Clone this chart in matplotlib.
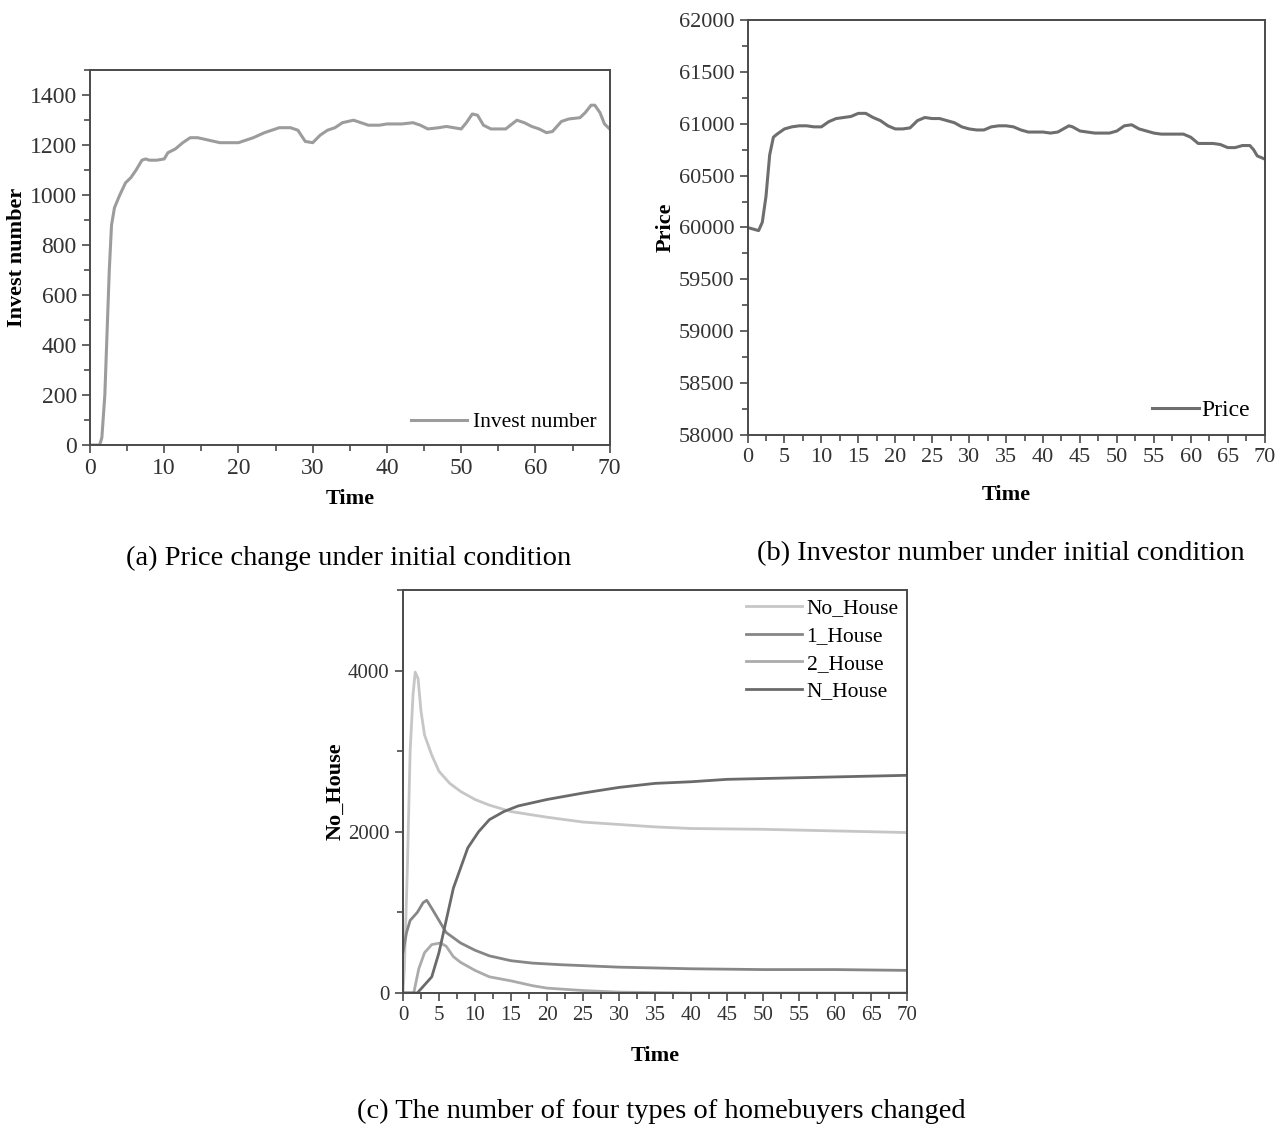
import matplotlib.pyplot as plt
from matplotlib.ticker import MultipleLocator

plt.rcParams["font.family"] = ["Liberation Serif", "DejaVu Serif"]

# (a) invest number over time
inv_t = [0, 1, 1.3, 1.6, 2, 2.3, 2.6, 2.9, 3.3, 4, 4.8, 5.5, 6.2, 7, 7.5, 8, 9, 10,
         10.5, 11.5, 12.5, 13.5, 14.5, 16, 17.5, 19, 20, 21, 22, 23.5, 24.5, 25.5,
         27, 28, 29, 30, 31, 32, 33, 34, 35.5, 36.5, 37.5, 39, 40, 42, 43.5, 44.5,
         45.5, 47, 48, 49, 50, 50.7, 51.5, 52.2, 53, 54, 56, 57.5, 58.5, 59.5, 60.5,
         61.5, 62.3, 63.5, 64.5, 66, 66.7, 67.5, 68, 68.7, 69.3, 70]
inv_v = [0, 0, 0, 30, 200, 450, 700, 880, 950, 1000, 1050, 1070, 1100, 1140, 1145,
         1140, 1140, 1145, 1170, 1185, 1210, 1230, 1230, 1220, 1210, 1210, 1210, 1220,
         1230, 1250, 1260, 1270, 1270, 1260, 1215, 1210, 1240, 1260, 1270, 1290, 1300,
         1290, 1280, 1280, 1285, 1285, 1290, 1280, 1265, 1270, 1275, 1270, 1265, 1290,
         1325, 1320, 1280, 1265, 1265, 1300, 1290, 1275, 1265, 1250, 1255, 1295, 1305,
         1310, 1330, 1360, 1360, 1330, 1285, 1265]

# (b) price over time
price_t = [0, 1, 1.5, 2, 2.5, 3, 3.5, 4, 5, 6, 7, 8, 9, 10, 11, 12, 13, 14, 15, 16,
           17, 18, 19, 20, 21, 22, 23, 24, 25, 26, 27, 28, 29, 30, 31, 32, 33, 34, 35,
           36, 37, 38, 40, 41, 42, 43, 43.5, 44, 45, 46, 47, 49, 50, 51, 52, 53, 54,
           55, 56, 58, 59, 60, 61, 62, 63, 64, 65, 66, 67, 68, 68.5, 69, 70]
price_v = [60000, 59980, 59970, 60050, 60300, 60700, 60870, 60900, 60950, 60970,
           60980, 60980, 60970, 60970, 61020, 61050, 61060, 61070, 61100, 61100,
           61060, 61030, 60980, 60950, 60950, 60960, 61030, 61060, 61050, 61050,
           61030, 61010, 60970, 60950, 60940, 60940, 60970, 60980, 60980, 60970,
           60940, 60920, 60920, 60910, 60920, 60960, 60980, 60970, 60930, 60920,
           60910, 60910, 60930, 60980, 60990, 60950, 60930, 60910, 60900, 60900,
           60900, 60870, 60810, 60810, 60810, 60800, 60770, 60770, 60790, 60790,
           60750, 60690, 60660]

# (c) four homebuyer groups
no_t = [0, 0.2, 0.6, 1, 1.4, 1.7, 2.1, 2.5, 3, 4, 5, 6.5, 8, 10, 12, 15, 20, 25, 30,
        35, 40, 50, 60, 70]
no_v = [0, 300, 1500, 3000, 3700, 3980, 3900, 3500, 3200, 2950, 2750, 2600, 2500,
        2400, 2330, 2250, 2180, 2120, 2090, 2060, 2040, 2030, 2010, 1990]
one_t = [0, 0.5, 1, 2, 2.8, 3.3, 4, 5, 6, 8, 10, 12, 15, 18, 22, 30, 40, 50, 60, 70]
one_v = [500, 750, 900, 1000, 1120, 1150, 1050, 900, 750, 620, 530, 460, 400, 370,
         350, 320, 300, 290, 290, 280]
two_t = [0, 1.5, 2.2, 3, 4, 5.2, 6, 7, 8, 10, 12, 15, 18, 20, 25, 30, 40, 70]
two_v = [0, 0, 300, 500, 600, 620, 580, 450, 380, 280, 200, 150, 90, 60, 30, 10, 0, 0]
n_t = [0, 2, 3, 4, 5, 6, 7, 8, 9, 10.5, 12, 14, 16, 20, 25, 30, 35, 40, 45, 50, 60, 70]
n_v = [0, 0, 100, 200, 500, 900, 1300, 1550, 1800, 2000, 2150, 2250, 2320, 2400,
       2480, 2550, 2600, 2620, 2650, 2660, 2680, 2700]

SPINE = "#4a4a4a"
LBL = dict(fontsize=16, fontweight="bold")


def style(ax, size):
    for s in ax.spines.values():
        s.set_color(SPINE)
        s.set_linewidth(1.4)
    ax.tick_params(which="both", direction="out", color=SPINE, width=1.2,
                   labelsize=size, labelcolor="#333333", top=False, right=False)
    ax.tick_params(which="major", length=6)
    ax.tick_params(which="minor", length=4)


fig = plt.figure(figsize=(12.8, 11.29), dpi=100)

ax1 = fig.add_axes([0.0703, 0.6058, 0.406, 0.332])
ax1.plot(inv_t, inv_v, color="#9c9c9c", lw=2.2, label="Invest number")
ax1.set_xlim(0, 70)
ax1.set_ylim(0, 1500)
ax1.xaxis.set_major_locator(MultipleLocator(10))
ax1.xaxis.set_minor_locator(MultipleLocator(5))
ax1.yaxis.set_minor_locator(MultipleLocator(100))
ax1.set_yticks([0, 200, 400, 600, 800, 1000, 1200, 1400])
ax1.set_xlabel("Time", labelpad=7, **LBL)
ax1.set_ylabel("Invest number", labelpad=2, **LBL)
style(ax1, 17)
ax1.legend(loc="lower right", frameon=False, fontsize=15.5, handlelength=2.6,
           handletextpad=0.3, borderaxespad=0.2)

ax2 = fig.add_axes([0.584, 0.6147, 0.404, 0.3676])
ax2.plot(price_t, price_v, color="#6e6e6e", lw=2.2, label="Price")
ax2.set_xlim(0, 70)
ax2.set_ylim(58000, 62000)
ax2.xaxis.set_major_locator(MultipleLocator(5))
ax2.xaxis.set_minor_locator(MultipleLocator(2.5))
ax2.yaxis.set_major_locator(MultipleLocator(500))
ax2.yaxis.set_minor_locator(MultipleLocator(250))
ax2.set_xlabel("Time", labelpad=13, **LBL)
ax2.set_ylabel("Price", labelpad=2, **LBL)
style(ax2, 16)
ax2.legend(loc="lower right", frameon=False, fontsize=17, handlelength=2.0,
           handletextpad=0.1, borderaxespad=0.2)

ax3 = fig.add_axes([0.3148, 0.1205, 0.394, 0.357])
ax3.plot(no_t, no_v, color="#c6c6c6", lw=2, label="No_House")
ax3.plot(one_t, one_v, color="#868686", lw=2, label="1_House")
ax3.plot(two_t, two_v, color="#ababab", lw=2, label="2_House")
ax3.plot(n_t, n_v, color="#6a6a6a", lw=2, label="N_House")
ax3.set_xlim(0, 70)
ax3.set_ylim(0, 5000)
ax3.xaxis.set_major_locator(MultipleLocator(5))
ax3.xaxis.set_minor_locator(MultipleLocator(2.5))
ax3.yaxis.set_major_locator(MultipleLocator(2000))
ax3.yaxis.set_minor_locator(MultipleLocator(1000))
ax3.set_xlabel("Time", labelpad=15, **LBL)
ax3.set_ylabel("No_House", labelpad=2, **LBL)
style(ax3, 15)
ax3.legend(loc="upper right", frameon=False, fontsize=15.5, handlelength=2.6,
           handletextpad=0.2, labelspacing=0.35, borderaxespad=0.0)

fig.text(0.272, 0.505, "(a) Price change under initial condition",
         ha="center", va="center", fontsize=20.5)
fig.text(0.782, 0.51, "(b) Investor number under initial condition",
         ha="center", va="center", fontsize=20.5)
fig.text(0.517, 0.016, "(c) The number of four types of homebuyers changed",
         ha="center", va="center", fontsize=20.5)

fig.savefig("out.png", dpi=100)
